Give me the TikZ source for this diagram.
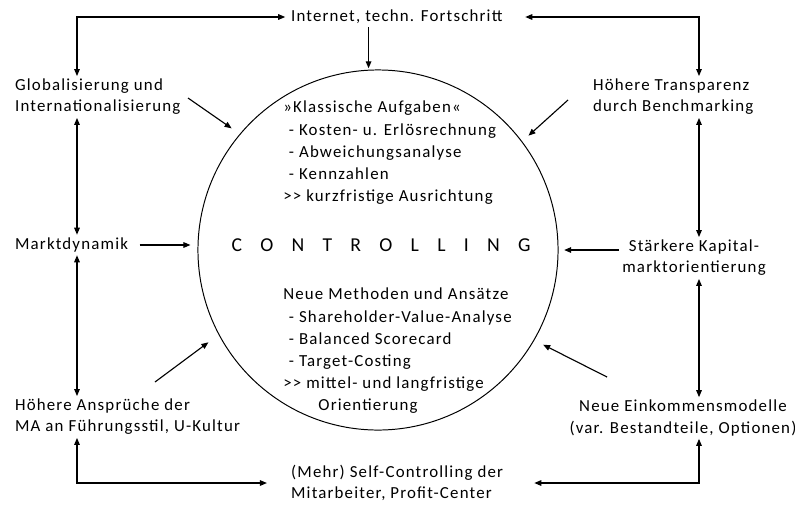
\documentclass[tikz,border=0pt]{standalone}
\usepackage{fontspec}
\setmainfont{Carlito}[LetterSpace=7]
\usetikzlibrary{arrows.meta,calc}

\tikzset{
  txt/.style={inner sep=2pt,align=left,font=\fontsize{12}{15}\selectfont},
  inntxt/.style={inner sep=0pt,align=left,font=\fontsize{12}{15.8}\selectfont},
  pfeil/.style={line width=0.8pt,-{Triangle[length=5pt,width=4pt]}},
  dpfeil/.style={line width=0.8pt,{Triangle[length=5pt,width=4pt]}-{Triangle[length=5pt,width=4pt]}},
}

\begin{document}
\begin{tikzpicture}[x=0.025cm,y=-0.025cm]
\useasboundingbox (0,0) rectangle (795,506);
% Kreis in der Mitte
\node[circle,draw,line width=0.7pt,minimum size=9cm,inner sep=0pt] (ctrl) at (378,250) {};
\node[font=\fontsize{14}{14}\selectfont] (word) at (381,245)
  {C\hspace{13pt}O\hspace{13pt}N\hspace{13pt}T\hspace{13pt}R\hspace{13pt}O\hspace{13pt}L\hspace{13pt}L\hspace{13pt}I\hspace{13pt}N\hspace{13pt}G};
\node[inntxt,anchor=west] (klass) at (283,153) {»Klassische Aufgaben«\\\hspace*{4pt}- Kosten- u. Erlösrechnung\\\hspace*{4pt}- Abweichungsanalyse\\\hspace*{4pt}- Kennzahlen\\{>}{>} kurzfristige Ausrichtung};
\node[inntxt,anchor=west] (neu) at (283,351) {Neue Methoden und Ansätze\\\hspace*{4pt}- Shareholder-Value-Analyse\\\hspace*{4pt}- Balanced Scorecard\\\hspace*{4pt}- Target-Costing\\{>}{>} mittel- und langfristige\\\hspace*{25pt}Orientierung};

% Einflussfaktoren
\node[txt,anchor=west] (inet) at (288,17) {Internet, techn. Fortschritt};
\node[txt,anchor=west] (glob) at (12,97) {Globalisierung und\\Internationalisierung};
\node[txt,anchor=west] (markt) at (12,245) {Marktdynamik};
\node[txt,anchor=west] (anspr) at (12,417) {Höhere Ansprüche der\\MA an Führungsstil, U-Kultur};
\node[txt,anchor=west] (self) at (288,483) {(Mehr) Self-Controlling der\\Mitarbeiter,\ Profit-Center};
\node[txt,anchor=west] (transp) at (590,97) {Höhere Transparenz\\durch Benchmarking};
\node[txt,align=center] (kap) at (694,258) {Stärkere Kapital-\\marktorientierung};
\node[txt,align=center] (eink) at (683,418) {Neue Einkommensmodelle\\(var. Bestandteile, Optionen)};

\coordinate (lx) at (77,0);
\coordinate (rx) at (699,0);
\coordinate (gs) at (188,98);
\coordinate (ts) at (568,100);
\coordinate (as) at (155,382);
\coordinate (es) at (607,377);

% Rahmen aus Doppelpfeilen
\draw[dpfeil,shorten >=2pt] (glob.north -| lx) |- (inet.west);
\draw[dpfeil,shorten <=14pt] (inet.east) -| (transp.north -| rx);
\draw[dpfeil] (glob.south -| lx) -- (markt.north -| lx);
\draw[dpfeil] (markt.south -| lx) -- (anspr.north -| lx);
\draw[dpfeil,shorten >=15pt] (anspr.south -| lx) |- (self.west);
\draw[dpfeil,shorten >=20pt] (eink.south -| rx) |- (self.east);
\draw[dpfeil] (transp.south -| rx) -- (kap.north -| rx);
\draw[dpfeil] (kap.south -| rx) -- (eink.north -| rx);

% Pfeile zum Controlling
\draw[pfeil,shorten >=1pt] (inet.south -| ctrl.93) -- (ctrl.93);
\draw[pfeil,shorten <=6pt,shorten >=5pt] (markt.east) -- (markt.east -| ctrl.west);
\draw[pfeil,shorten >=4pt] (kap.west |- ctrl.east) -- (ctrl.east);
\draw[pfeil,shorten >=7pt] (gs) -- (ctrl.140);
\draw[pfeil,shorten >=6pt] (ts) -- (ctrl.37);
\draw[pfeil,shorten >=9pt] (as) -- (ctrl.208);
\draw[pfeil,shorten >=7pt] (es) -- (ctrl.330);
\end{tikzpicture}
\end{document}
